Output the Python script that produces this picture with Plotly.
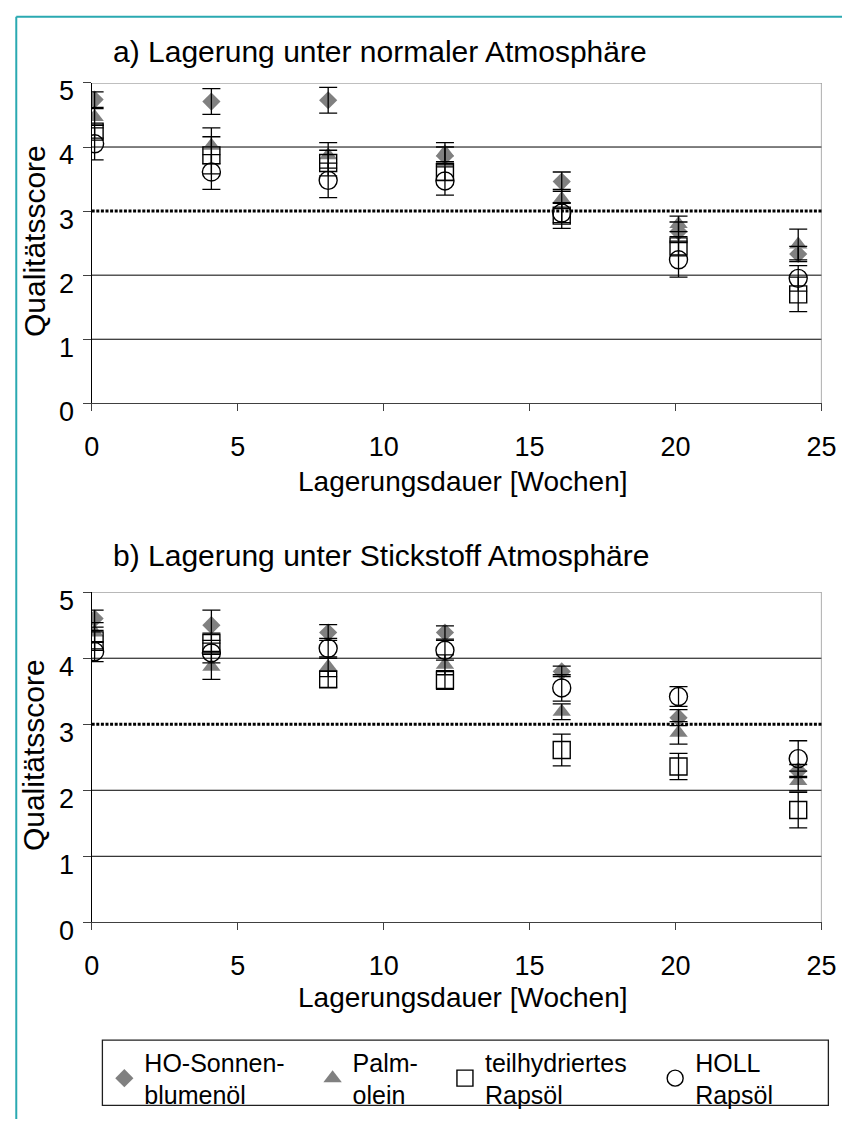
import plotly.graph_objects as go

W, H = 857, 1142

weeks = [0.1, 4.1, 8.1, 12.1, 16.1, 20.1, 24.2]

# a) normal atmosphere
ho_a = [4.74, 4.71, 4.73, 3.86, 3.46, 2.68, 2.33]
ho_a_err = [0.12, 0.20, 0.20, 0.14, 0.15, 0.15, 0.12]
palm_a = [4.47, 4.02, 3.87, 3.92, 3.19, 2.80, 2.48]
palm_a_err = [0.13, 0.28, 0.20, 0.15, 0.15, 0.12, 0.24]
teil_a = [4.24, 3.87, 3.75, 3.61, 2.93, 2.45, 1.70]
teil_a_err = [0.10, 0.29, 0.20, 0.13, 0.20, 0.15, 0.27]
holl_a = [4.05, 3.61, 3.48, 3.47, 2.97, 2.24, 1.95]
holl_a_err = [0.25, 0.27, 0.27, 0.22, 0.15, 0.27, 0.20]

# b) nitrogen atmosphere
ho_b = [4.60, 4.50, 4.39, 4.39, 3.80, 3.10, 2.29]
ho_b_err = [0.13, 0.23, 0.12, 0.10, 0.08, 0.12, 0.10]
palm_b = [4.39, 3.87, 3.87, 3.90, 3.19, 2.87, 2.14]
palm_b_err = [0.15, 0.19, 0.15, 0.15, 0.12, 0.17, 0.15]
teil_b = [4.27, 4.23, 3.68, 3.67, 2.61, 2.36, 1.70]
teil_b_err = [0.15, 0.15, 0.12, 0.14, 0.24, 0.20, 0.27]
holl_b = [4.10, 4.08, 4.15, 4.12, 3.55, 3.42, 2.48]
holl_b_err = [0.15, 0.15, 0.15, 0.15, 0.20, 0.15, 0.27]

series_names = ["HO-Sonnen-<br>blumenöl", "Palm-<br>olein", "teilhydriertes<br>Rapsöl", "HOLL<br>Rapsöl"]
x_ticks = [0, 5, 10, 15, 20, 25]
y_ticks = [0, 1, 2, 3, 4, 5]
titles = ["a) Lagerung unter normaler Atmosphäre", "b) Lagerung unter Stickstoff Atmosphäre"]
x_title = "Lagerungsdauer [Wochen]"
y_title = "Qualitätsscore"
threshold = 3
grid_vals = [1, 2, 4]

FONT = "Liberation Sans, Arial, sans-serif"
GRAY = "#808080"

styles = [
    dict(symbol="diamond", size=14, color=GRAY, line=dict(width=0)),
    dict(symbol="triangle-up", size=16, color=GRAY, line=dict(width=0)),
    dict(symbol="square-open", size=17, color="black", line=dict(width=1.4, color="black")),
    dict(symbol="circle-open", size=18, color="black", line=dict(width=1.4, color="black")),
]
legend_ids = ["legend", "legend2", "legend3", "legend4"]

panels = [
    ("x", "y", [ho_a, palm_a, teil_a, holl_a], [ho_a_err, palm_a_err, teil_a_err, holl_a_err]),
    ("x2", "y2", [ho_b, palm_b, teil_b, holl_b], [ho_b_err, palm_b_err, teil_b_err, holl_b_err]),
]

fig = go.Figure()

for pi, (xa, ya, vals, errs) in enumerate(panels):
    for si in range(4):
        fig.add_trace(go.Scatter(
            x=weeks, y=vals[si], mode="markers", xaxis=xa, yaxis=ya,
            name=series_names[si], marker=styles[si],
            showlegend=(pi == 0), legend=legend_ids[si], legendgroup=str(si),
            hoverinfo="x+y",
        ))
    # error bars drawn over the markers
    for si in range(4):
        fig.add_trace(go.Scatter(
            x=weeks, y=vals[si], mode="markers", xaxis=xa, yaxis=ya,
            marker=dict(size=1, opacity=0), showlegend=False, hoverinfo="skip",
            error_y=dict(type="data", array=errs[si], visible=True,
                         color="black", thickness=1.3, width=9),
        ))

def px_x(p):
    return p / W

def px_y(p):
    return 1 - p / H

axis_common = dict(range=[0, 25], showgrid=False, zeroline=False, showline=True,
                   linecolor="#404040", linewidth=1.3, ticks="outside", ticklen=7,
                   tickcolor="#404040", tickwidth=1.2, tickvals=x_ticks,
                   ticktext=[str(v) for v in x_ticks],
                   tickfont=dict(family=FONT, size=27, color="black"),
                   ticklabelstandoff=12, fixedrange=True)
yaxis_common = dict(range=[0, 5], showgrid=False, zeroline=False, showline=True,
                    linecolor="black", linewidth=1.3, ticks="outside", ticklen=8,
                    tickcolor="#404040", tickwidth=1.2, tickvals=y_ticks,
                    ticktext=[str(v) for v in y_ticks],
                    tickfont=dict(family=FONT, size=27, color="black"),
                    ticklabelstandoff=3, ticklabelshift=8, fixedrange=True)

fig.update_layout(
    width=W, height=H, margin=dict(l=0, r=0, t=0, b=0),
    paper_bgcolor="white", plot_bgcolor="white",
    font=dict(family=FONT, color="black"),
    xaxis=dict(domain=[px_x(86), px_x(836)], anchor="y", **axis_common),
    yaxis=dict(domain=[px_y(407), px_y(78)], anchor="x", **yaxis_common),
    xaxis2=dict(domain=[px_x(86), px_x(836)], anchor="y2", **axis_common),
    yaxis2=dict(domain=[px_y(940), px_y(601)], anchor="x2", **yaxis_common),
)

# legends (one per entry, positioned inside a common frame)
leg_x = [99, 313, 449, 665]
for i, lid in enumerate(legend_ids):
    fig.update_layout({lid: dict(
        x=px_x(leg_x[i]), y=px_y(1060), xanchor="left", yanchor="top",
        orientation="v", bgcolor="rgba(0,0,0,0)", borderwidth=0,
        font=dict(family=FONT, size=25, color="black"), valign="middle",
        itemclick=False, itemdoubleclick=False,
    )})

shapes = []
for xa, ya in [("x", "y"), ("x2", "y2")]:
    for g in grid_vals:
        shapes.append(dict(type="line", xref=f"{xa} domain", yref=ya, x0=0, x1=1, y0=g, y1=g,
                           line=dict(color="black", width=1), layer="below"))
    shapes.append(dict(type="line", xref=f"{xa} domain", yref=ya, x0=0, x1=1, y0=5, y1=5,
                       line=dict(color=GRAY, width=1.3), layer="below"))
    shapes.append(dict(type="line", xref=xa, yref=f"{ya} domain", x0=25, x1=25, y0=0, y1=1,
                       line=dict(color=GRAY, width=1.3), layer="below"))
    shapes.append(dict(type="line", xref=f"{xa} domain", yref=ya, x0=0, x1=1,
                       y0=threshold, y1=threshold,
                       line=dict(color="black", width=3, dash="3px,1.6px"), layer="below"))

# legend frame
shapes.append(dict(type="rect", xref="paper", yref="paper",
                   x0=px_x(97), x1=px_x(843), y0=px_y(1128), y1=px_y(1061),
                   line=dict(color="#202020", width=1.3)))
# teal outer frame (left and top)
teal = "#2aa9b1"
shapes.append(dict(type="line", xref="paper", yref="paper", x0=px_x(8.5), x1=px_x(8.5),
                   y0=0, y1=px_y(10), line=dict(color=teal, width=2)))
shapes.append(dict(type="line", xref="paper", yref="paper", x0=px_x(8.5), x1=1.0,
                   y0=px_y(10), y1=px_y(10), line=dict(color=teal, width=2)))
fig.update_layout(shapes=shapes)

ann = []
for t, yc in zip(titles, [46, 563]):
    ann.append(dict(text=t, xref="paper", yref="paper", x=px_x(106), y=px_y(yc),
                    xanchor="left", yanchor="middle", showarrow=False,
                    font=dict(family=FONT, size=30, color="black")))
for yc in [487, 1017]:
    ann.append(dict(text=x_title, xref="paper", yref="paper", x=px_x(468), y=px_y(yc),
                    xanchor="center", yanchor="middle", showarrow=False,
                    font=dict(family=FONT, size=28, color="black")))
for yc in [240, 768]:
    ann.append(dict(text=y_title, xref="paper", yref="paper", x=px_x(27), y=px_y(yc),
                    xanchor="center", yanchor="middle", showarrow=False, textangle=-90,
                    font=dict(family=FONT, size=30, color="black")))
fig.update_layout(annotations=ann)

fig.write_html(
    "out.html",
    post_script=("document.documentElement.style.margin='0px';"
                 "document.body.style.margin='0px';"
                 "document.documentElement.style.overflow='hidden';"
                 "document.body.style.overflow='hidden';"),
)
